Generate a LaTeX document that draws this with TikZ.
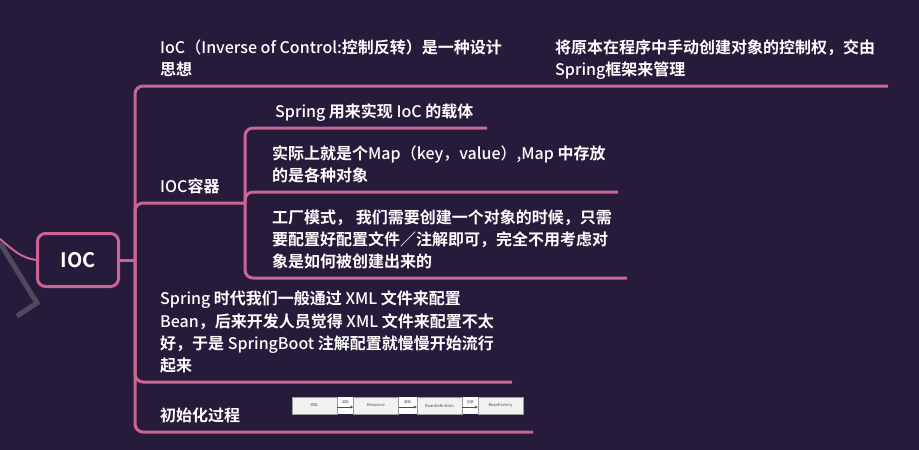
\documentclass[tikz,border=0pt]{standalone}
\usepackage{fontspec}
\setmainfont{Noto Sans CJK SC}[UprightFont={* Medium}, BoldFont={* Bold}]
\newcommand{\zh}[1]{{\bfseries #1}}
\definecolor{mapbg}{HTML}{261B3A}
\definecolor{mappink}{HTML}{CC6592}
\definecolor{mapgray}{HTML}{4E4A5C}
\definecolor{flowgray}{HTML}{9A9A9A}
\begin{document}
\begin{tikzpicture}[
    x=1pt, y=-1pt,
    >=stealth,
    branch/.style={
        draw=mappink,
        line width=3pt,
        rounded corners=8pt
    },
    leaf/.style={
        anchor=south west,
        inner sep=0pt,
        text depth=4pt,
        align=left,
        text=white,
        font=\fontsize{16}{22.3}\selectfont
    },
    flowbox/.style={
        draw=flowgray,
        fill=black!5,
        line width=0.4pt,
        minimum width=45pt,
        minimum height=17pt,
        inner sep=0pt,
        font=\fontsize{4}{5}\selectfont,
        text=black!60
    },
    flowlabel/.style={
        inner sep=0pt,
        font=\fontsize{3.5}{4}\selectfont,
        text=black!60
    }]

% Achtergrond
\fill[mapbg] (0,0) rectangle (919,450);
\useasboundingbox (0,0) rectangle (919,450);

% Centrale knoop
\node[
    draw=mappink,
    line width=3pt,
    rounded corners=8pt,
    minimum width=81pt,
    minimum height=53pt,
    text=white,
    font=\bfseries\fontsize{20}{24}\selectfont
] (ioc) at (78,260)
{IOC};

% Rand links
\coordinate (leftin) at (0,239);
\draw[mappink, line width=2pt]
(leftin) .. controls (14,251) and (22,258) .. (ioc.west);

\draw[mapgray, line width=5pt]
(0,243) -- (37,303) -- (17,316);


% Eerste niveau
\node[leaf] (idea) at (160,80)
{IoC（Inverse of Control:\zh{控制反转）是一种设计}\\
\zh{思想}};

\node[leaf] (transfer) at (555,80)
{\zh{将原本在程序中手动创建对象的控制权，交由}\\
Spring\zh{框架来管理}};

\node[leaf] (container) at (160,197)
{IOC\zh{容器}};

\node[leaf] (xmlera) at (160,376)
{Spring \zh{时代我们一般通过} XML \zh{文件来配置}\\
Bean\zh{，后来开发人员觉得} XML \zh{文件来配置不太}\\
\zh{好，于是} SpringBoot \zh{注解配置就慢慢开始流行}\\
\zh{起来}};

\node[leaf] (initproc) at (160,426)
{\zh{初始化过程}};


% Tweede niveau
\node[leaf] (carrier) at (275,122)
{Spring \zh{用来实现} IoC \zh{的载体}};

\node[leaf] (mapnode) at (272,186)
{\zh{实际上就是个}Map（key，value）,Map \zh{中存放}\\
\zh{的是各种对象}};

\node[leaf] (factory) at (272,272)
{\zh{工厂模式， 我们需要创建一个对象的时候，只需}\\
\zh{要配置好配置文件／注解即可，完全不用考虑对}\\
\zh{象是如何被创建出来的}};


% Takken
\coordinate (hub) at (135,260);
\coordinate (ideaend) at (888,86);
\coordinate (contend) at (245,203);
\coordinate (eraend) at (512,382);
\coordinate (initend) at (533,432);
\coordinate (carrierend) at (487,128);
\coordinate (mapend) at (618,192);
\coordinate (factend) at (627,278);

\draw[branch]
(ioc.east) -- (hub);

\draw[branch]
(hub) |- (ideaend);

\draw[branch]
(hub) |- (contend);

\draw[branch]
(hub) |- (eraend);

\draw[branch]
(hub) |- (initend);

\draw[branch]
(contend) |- (carrierend);

\draw[branch]
(contend) |- (mapend);

\draw[branch]
(contend) |- (factend);


% Afbeelding initialisatie
\fill[white] (292,397) rectangle (523,414);

\node[flowbox] (xmlbox) at (314.5,405.5) {XML};
\node[flowbox] (resbox) at (376,405.5) {Resource};
\node[flowbox] (defbox) at (439.5,405.5) {BeanDefinition};
\node[flowbox] (facbox) at (500.5,405.5) {BeanFactory};

\draw[->, black!70, line width=0.4pt]
([yshift=-1.5pt]xmlbox.east) -- ([yshift=-1.5pt]resbox.west)
node[flowlabel, midway, above=2.5pt] {读取};

\draw[->, black!70, line width=0.4pt]
([yshift=-1.5pt]resbox.east) -- ([yshift=-1.5pt]defbox.west)
node[flowlabel, midway, above=2.5pt] {解析};

\draw[->, black!70, line width=0.4pt]
([yshift=-1.5pt]defbox.east) -- ([yshift=-1.5pt]facbox.west)
node[flowlabel, midway, above=2.5pt] {注册};

\end{tikzpicture}
\end{document}
